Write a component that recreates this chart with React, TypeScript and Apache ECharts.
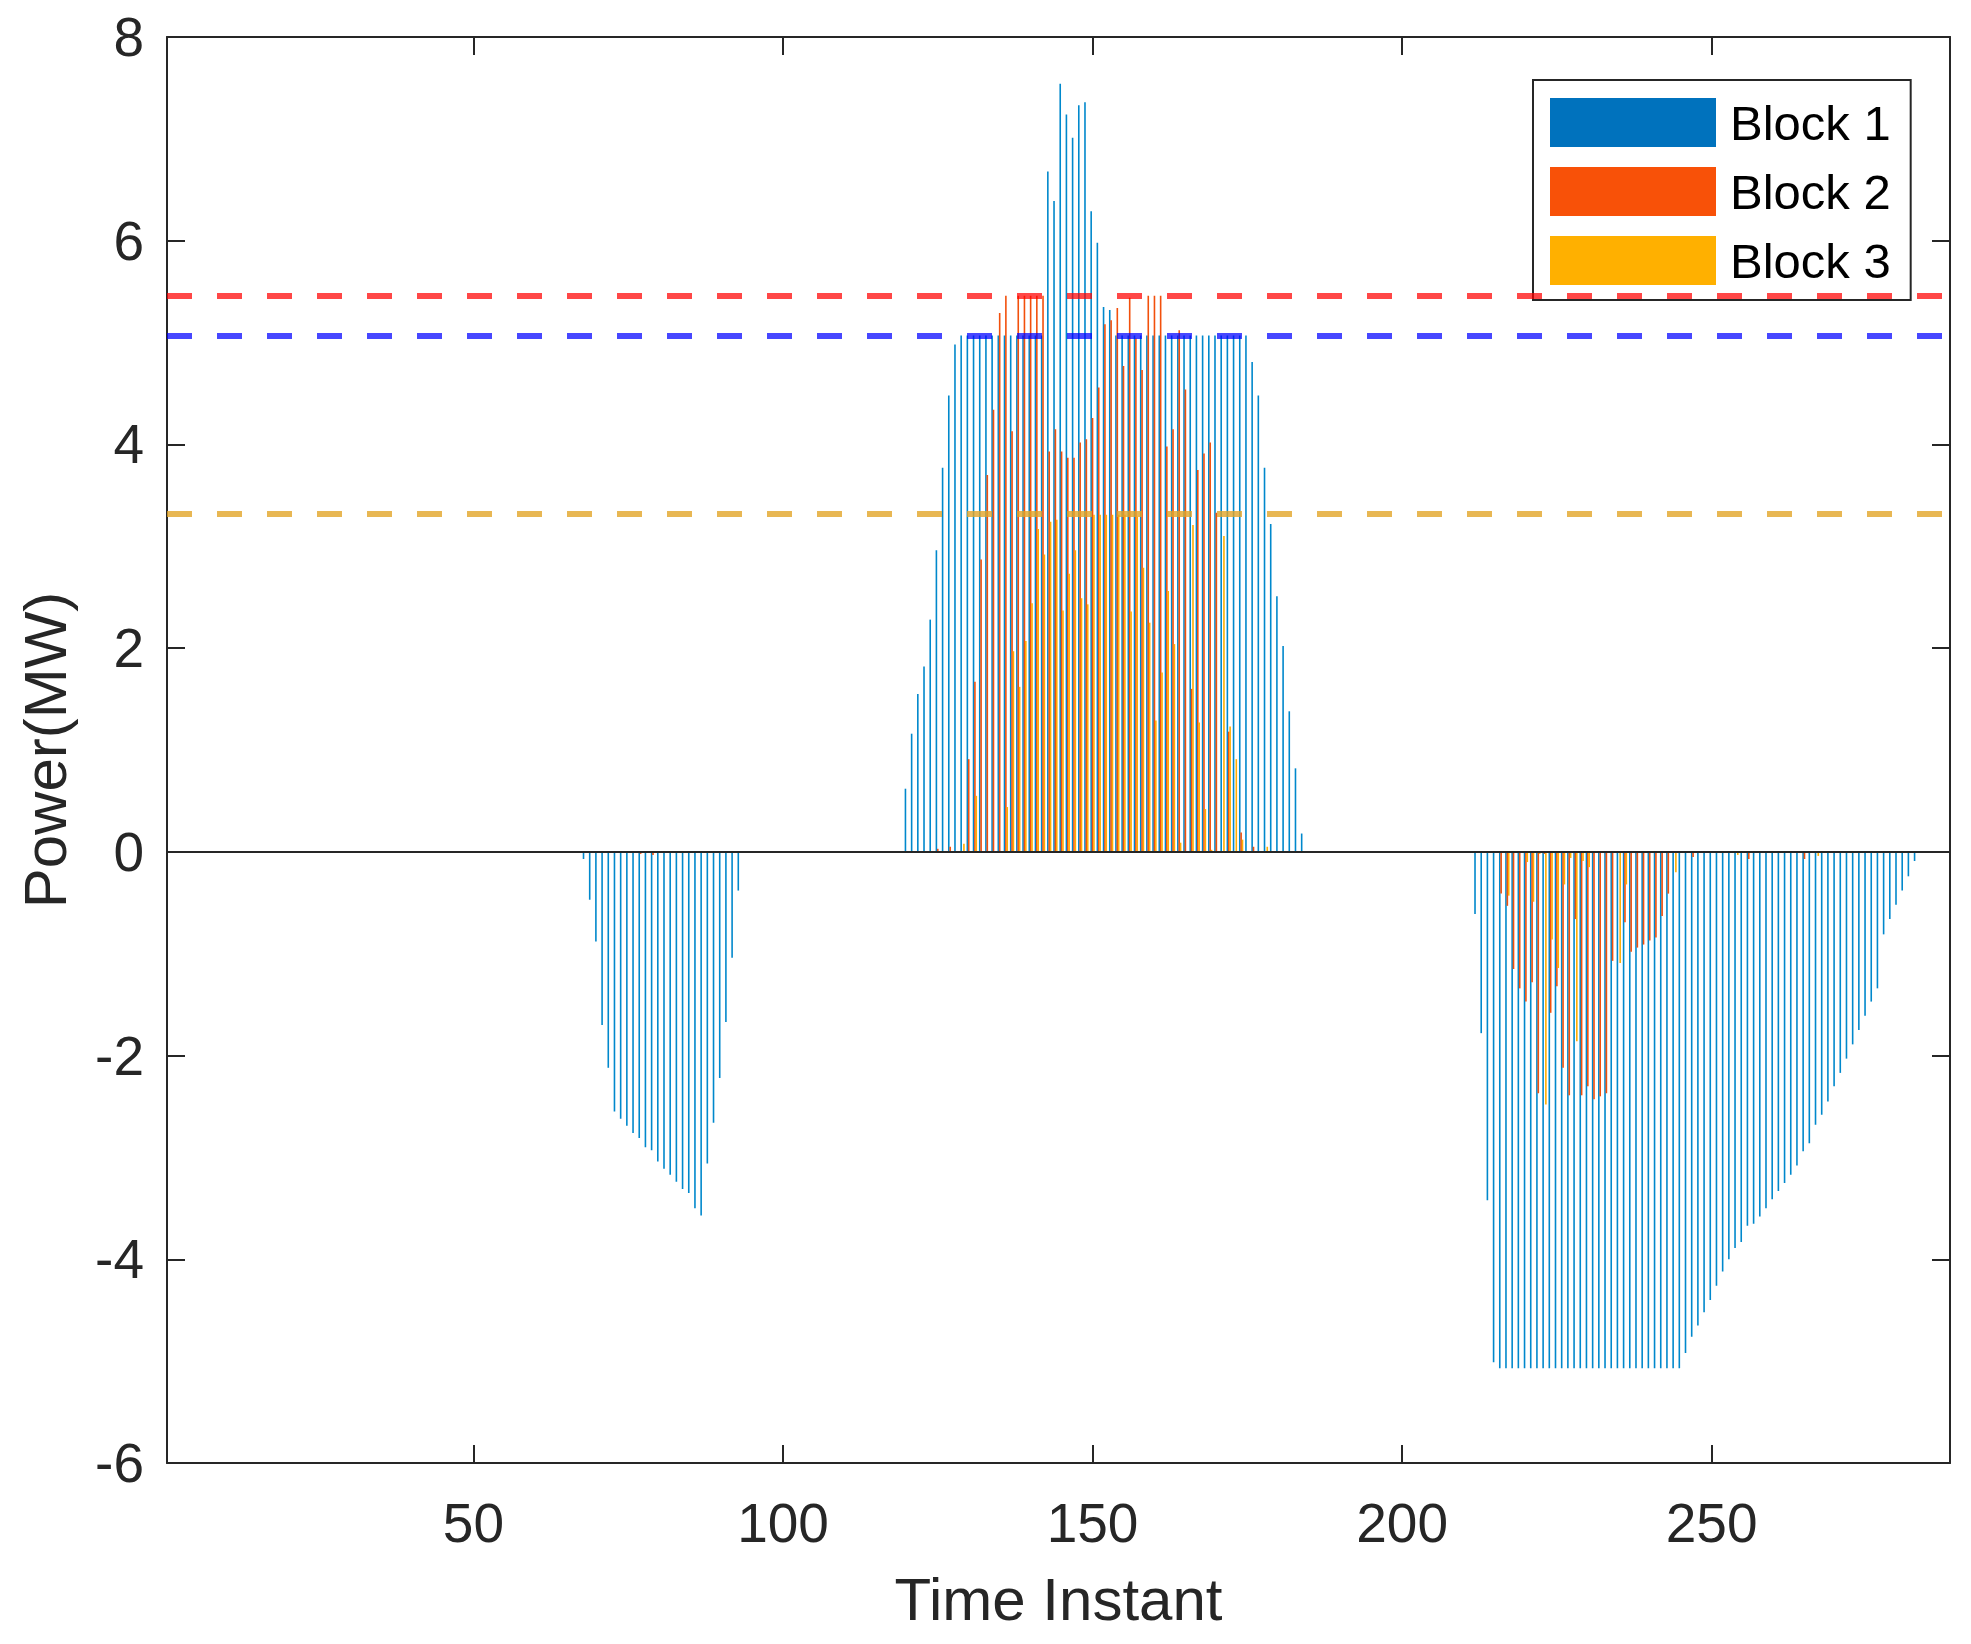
import React, { useEffect, useRef } from "react";
import * as echarts from "echarts";

// time instants 1..288 (5-minute steps over a day)
const instantCount = 288;
const xTickLabels = [50, 100, 150, 200, 250];

// each run: [first time instant, values from that instant on]; instants not listed are 0
const block1Runs: [number, number[]][] = [
  [68, [-0.07, -0.47, -0.88, -1.7, -2.12, -2.55, -2.62, -2.69, -2.76, -2.81, -2.9, -2.93, -3.04, -3.11, -3.17, -3.24, -3.31, -3.35, -3.5, -3.57, -3.06, -2.66, -2.22, -1.67, -1.04, -0.38]],
  [120, [
    0.62, 1.16, 1.55, 1.82, 2.28, 2.96, 3.77, 4.48, 4.98,
    5.07, 5.07, 5.07, 5.07, 5.07, 5.07, 5.07, 5.07, 5.07, 5.07, 5.07, 5.07, 5.07, 5.07,
    6.68, 6.39, 7.54, 7.24, 7.01, 7.33, 7.36, 6.29, 5.98, 5.35, 5.32,
    5.07, 5.07, 5.07, 5.07, 5.07, 5.07, 5.07, 5.07, 5.07, 5.07, 5.07, 5.07, 5.07, 5.07, 5.07, 5.07, 5.07, 5.07, 5.07, 5.07, 5.07, 5.07,
    4.81, 4.48, 3.77, 3.22, 2.51, 2.02, 1.38, 0.82, 0.18,
  ]],
  [212, [
    -0.61, -1.78, -3.42, -5.01,
    -5.07, -5.07, -5.07, -5.07, -5.07, -5.07, -5.07, -5.07, -5.07, -5.07, -5.07, -5.07, -5.07, -5.07, -5.07,
    -5.07, -5.07, -5.07, -5.07, -5.07, -5.07, -5.07, -5.07, -5.07, -5.07, -5.07, -5.07, -5.07, -5.07, -5.07,
    -4.92, -4.76, -4.65, -4.52, -4.4, -4.26, -4.12, -4.0, -3.89, -3.83, -3.67, -3.65, -3.58, -3.5, -3.41,
    -3.33, -3.25, -3.17, -3.08, -2.94, -2.86, -2.68, -2.58, -2.45, -2.3, -2.17, -2.03, -1.89, -1.75, -1.61,
    -1.47, -1.34, -0.81, -0.66, -0.52, -0.38, -0.24, -0.09,
  ]],
];

const block2Runs: [number, number[]][] = [
  [77, [-0.02, 0, -0.03]],
  [125, [
    0.03, 0, 0.05, 0, 0, 0.91, 1.67, 2.87, 3.7, 4.34, 5.29, 5.46, 4.13, 5.46, 5.46, 5.46, 5.46, 5.46,
    3.93, 4.15, 3.93, 3.87, 3.87, 4.02, 4.05, 4.26, 4.56, 5.18, 5.22, 5.34, 4.77, 5.44, 5.04, 4.73,
    5.46, 5.46, 5.46, 3.98, 4.15, 5.12, 4.54, 1.6, 3.75, 3.91, 4.02, 3.33, 0, 1.18, 0, 0.19, 0, 0.05,
  ]],
  [216, [
    -0.41, -0.53, -1.15, -1.34, -1.47, -1.28, -2.37, -0.02, -1.58, -1.32, -2.12, -2.39, -0.66, -2.39,
    -2.3, -2.43, -2.4, -2.37, -1.07, 0, -0.69, -0.98, -0.94, -0.91, -0.87, -0.84, -0.63, -0.41, 0, 0, 0, -0.05,
  ]],
  [255, [-0.01, -0.07]],
  [265, [-0.07]],
];

const block3Runs: [number, number[]][] = [
  [129, [0.08, 0, 0.55]],
  [136, [
    0.44, 1.97, 1.62, 2.07, 2.44, 3.17, 2.92, 3.24, 3.26, 2.37, 2.73, 2.96, 2.49, 2.43,
    3.31, 3.31, 3.31, 3.31, 3.31, 3.31, 2.36, 3.29, 2.79, 2.25, 1.29, 1.76, 2.56, 2.04,
    0.09, 0, 3.21, 1.27, 0.42, 0.02, 0, 3.1, 1.23, 0.91, 0.12,
  ]],
  [178, [0.05]],
  [214, [-0.01]],
  [217, [-0.43, 0, 0, -0.1, -0.49, -0.02, -2.48, -0.86, -1.14, -0.32, -0.06, -1.86, -0.09, -0.15]],
  [235, [-1.09, -0.32]],
  [244, [-0.2]],
  [254, [-0.03]],
  [267, [-0.04]],
];

// power limits (dashed lines)
const limitBlock2 = 5.46;
const limitBlock1 = 5.07;
const limitBlock3 = 3.32;

const seriesNames = ["Block 1", "Block 2", "Block 3"];

const FONT = "'Liberation Sans', Arial, Helvetica, sans-serif";
const INK = "#262626";

const expandRuns = (runs: [number, number[]][]) => {
  const out: number[] = new Array(instantCount).fill(0);
  runs.forEach(([start, values]) => {
    values.forEach((v, i) => {
      out[start - 1 + i] = v;
    });
  });
  return out;
};

const App = () => {
  const chartRef = useRef<HTMLDivElement>(null);

  useEffect(() => {
    const chart = echarts.init(chartRef.current, null, { renderer: "svg" });

    const categories = Array.from({ length: instantCount }, (_, i) => String(i + 1));
    const showTick = (index: number) => xTickLabels.includes(index + 1);

    const xCommon = {
      type: "category",
      data: categories,
      boundaryGap: true,
      axisLine: { show: true, onZero: false, lineStyle: { color: INK, width: 2 } },
      axisTick: {
        show: true,
        inside: true,
        length: 18,
        alignWithLabel: true,
        interval: showTick,
        lineStyle: { color: INK, width: 2 },
      },
      splitLine: { show: false },
    };

    const yCommon = {
      type: "value",
      min: -6,
      max: 8,
      interval: 2,
      axisLine: { show: true, onZero: false, lineStyle: { color: INK, width: 2 } },
      axisTick: { show: true, inside: true, length: 18, lineStyle: { color: INK, width: 2 } },
      splitLine: { show: false },
    };

    const barColors = ["#0088cc", "#f2500c", "#ffae00"];
    const legendColors = ["#0072bd", "#f85108", "#ffb000"];
    const allRuns = [block1Runs, block2Runs, block3Runs];

    const option = {
      animation: false,
      textStyle: { fontFamily: FONT },
      grid: { left: 167, right: 21, top: 37, bottom: 181, containLabel: false },
      legend: {
        orient: "vertical",
        left: 1533,
        top: 80,
        padding: [18, 20, 15, 17],
        itemWidth: 166,
        itemHeight: 49,
        itemGap: 20,
        icon: "rect",
        backgroundColor: "#ffffff",
        borderColor: INK,
        borderWidth: 2,
        textStyle: { fontSize: 49, color: "#000000", fontFamily: FONT, padding: [6, 0, 0, 9] },
        data: seriesNames.map((name, i) => ({ name, itemStyle: { color: legendColors[i] } })),
      },
      xAxis: [
        {
          ...xCommon,
          position: "bottom",
          axisLabel: {
            interval: showTick,
            fontSize: 55,
            color: INK,
            margin: 32,
            fontFamily: FONT,
          },
          name: "Time Instant",
          nameLocation: "middle",
          nameGap: 106,
          nameTextStyle: { fontSize: 60, color: INK, fontFamily: FONT },
        },
        {
          ...xCommon,
          position: "top",
          axisLabel: { show: false },
        },
      ],
      yAxis: [
        {
          ...yCommon,
          position: "left",
          axisLabel: { fontSize: 55, color: INK, margin: 23, fontFamily: FONT },
          name: "Power(MW)",
          nameLocation: "middle",
          nameGap: 92,
          nameTextStyle: { fontSize: 60, color: INK, fontFamily: FONT },
        },
        {
          ...yCommon,
          position: "right",
          axisLabel: { show: false },
        },
      ],
      series: seriesNames.map((name, i) => ({
        name,
        type: "bar",
        xAxisIndex: 0,
        yAxisIndex: 0,
        data: expandRuns(allRuns[i]),
        barWidth: 1.6,
        barGap: "-14%",
        silent: true,
        itemStyle: { color: barColors[i] },
        markLine:
          i === 2
            ? {
                silent: true,
                symbol: "none",
                label: { show: false },
                data: [
                  { yAxis: limitBlock2, lineStyle: { color: "rgba(255,0,0,0.72)", width: 6, type: [25, 25] } },
                  { yAxis: limitBlock1, lineStyle: { color: "rgba(0,0,255,0.72)", width: 6, type: [25, 25] } },
                  { yAxis: limitBlock3, lineStyle: { color: "rgba(226,165,40,0.8)", width: 6, type: [25, 25] } },
                  { yAxis: 0, lineStyle: { color: INK, width: 2, type: "solid" } },
                ],
              }
            : undefined,
      })),
    };

    chart.setOption(option);

    return () => {
      chart.dispose();
    };
  }, []);

  return (
    <div
      ref={chartRef}
      style={{ position: "absolute", left: 0, top: 0, width: "1971px", height: "1644px", background: "#ffffff" }}
    ></div>
  );
};

export default App;
